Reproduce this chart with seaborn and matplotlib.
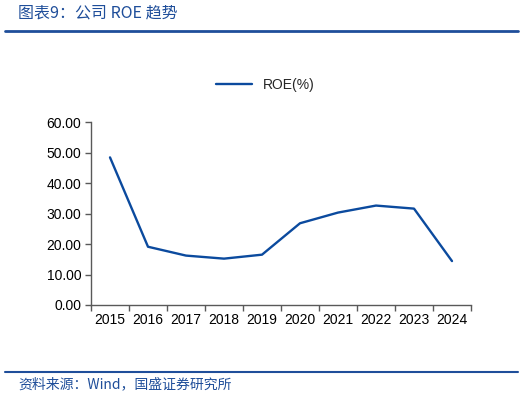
import matplotlib
matplotlib.use("Agg")
import matplotlib.pyplot as plt
import seaborn as sns
import pandas as pd
import numpy as np
from matplotlib.ticker import FixedLocator, NullFormatter

years = ["2015", "2016", "2017", "2018", "2019", "2020", "2021", "2022", "2023", "2024"]
roe = [48.4, 19.1, 16.2, 15.2, 16.5, 26.8, 30.3, 32.6, 31.6, 14.4]
series_name = "ROE(%)"
title = "图表9：公司 ROE 趋势"
source = "资料来源：Wind，国盛证券研究所"

sns.set_theme(style="white")
plt.rcParams["font.family"] = ["Noto Sans CJK SC", "DejaVu Sans"]

df = pd.DataFrame({"year": years, "roe": roe})

fig = plt.figure(figsize=(5.25, 3.98), dpi=100)
ax = fig.add_axes([91/525, 1-305/398, 380/525, 183/398])
line_color = "#0B4A9E"
sns.lineplot(data=df, x="year", y="roe", ax=ax, color=line_color, linewidth=1.7, label=series_name, sort=False)

ax.set_xlim(-0.5, len(years)-0.5)
ax.set_ylim(0, 60)
ax.set_yticks(np.arange(0, 61, 10))
ax.set_yticklabels([f"{v:.2f}" for v in np.arange(0, 61, 10)], fontsize=10, family=["Liberation Sans", "DejaVu Sans"])
ax.set_xticks(range(len(years)))
ax.set_xticklabels(years, fontsize=10, family=["Liberation Sans", "DejaVu Sans"])
ax.xaxis.set_minor_locator(FixedLocator(np.arange(-0.5, len(years), 1)))
ax.xaxis.set_minor_formatter(NullFormatter())
ax.tick_params(axis="x", which="major", length=0, pad=6, colors="black")
ax.tick_params(axis="x", which="minor", length=4, width=1, color="#595959", bottom=True)
ax.tick_params(axis="y", which="major", length=4, width=1, color="#595959", left=True, pad=3, colors="black")
ax.tick_params(axis="y", colors="black", color="#595959")
for s in ["top", "right"]:
    ax.spines[s].set_visible(False)
for s in ["left", "bottom"]:
    ax.spines[s].set_color("#595959")
    ax.spines[s].set_linewidth(1)
ax.set_xlabel("")
ax.set_ylabel("")
ax.grid(False)

leg = ax.legend(loc="center", bbox_to_anchor=(265/525, 1-85/398), bbox_transform=fig.transFigure,
                frameon=False, handlelength=2.6, prop={"family": ["Liberation Sans", "DejaVu Sans"], "size": 10})

title_color = "#1F4E9A"
fig.text(18/525, 1-13/398, title, fontsize=11.5, color=title_color, style="italic", va="center", ha="left")
fig.add_artist(plt.Line2D([5/525, 518/525], [1-31/398, 1-31/398], color="#1F4E9A", linewidth=2, transform=fig.transFigure))
fig.add_artist(plt.Line2D([5/525, 518/525], [1-372/398, 1-372/398], color="#1F4E9A", linewidth=1.5, transform=fig.transFigure))
fig.text(18/525, 1-384/398, source, fontsize=10, color=title_color, style="italic", va="center", ha="left")

fig.savefig("out.png", dpi=100)
